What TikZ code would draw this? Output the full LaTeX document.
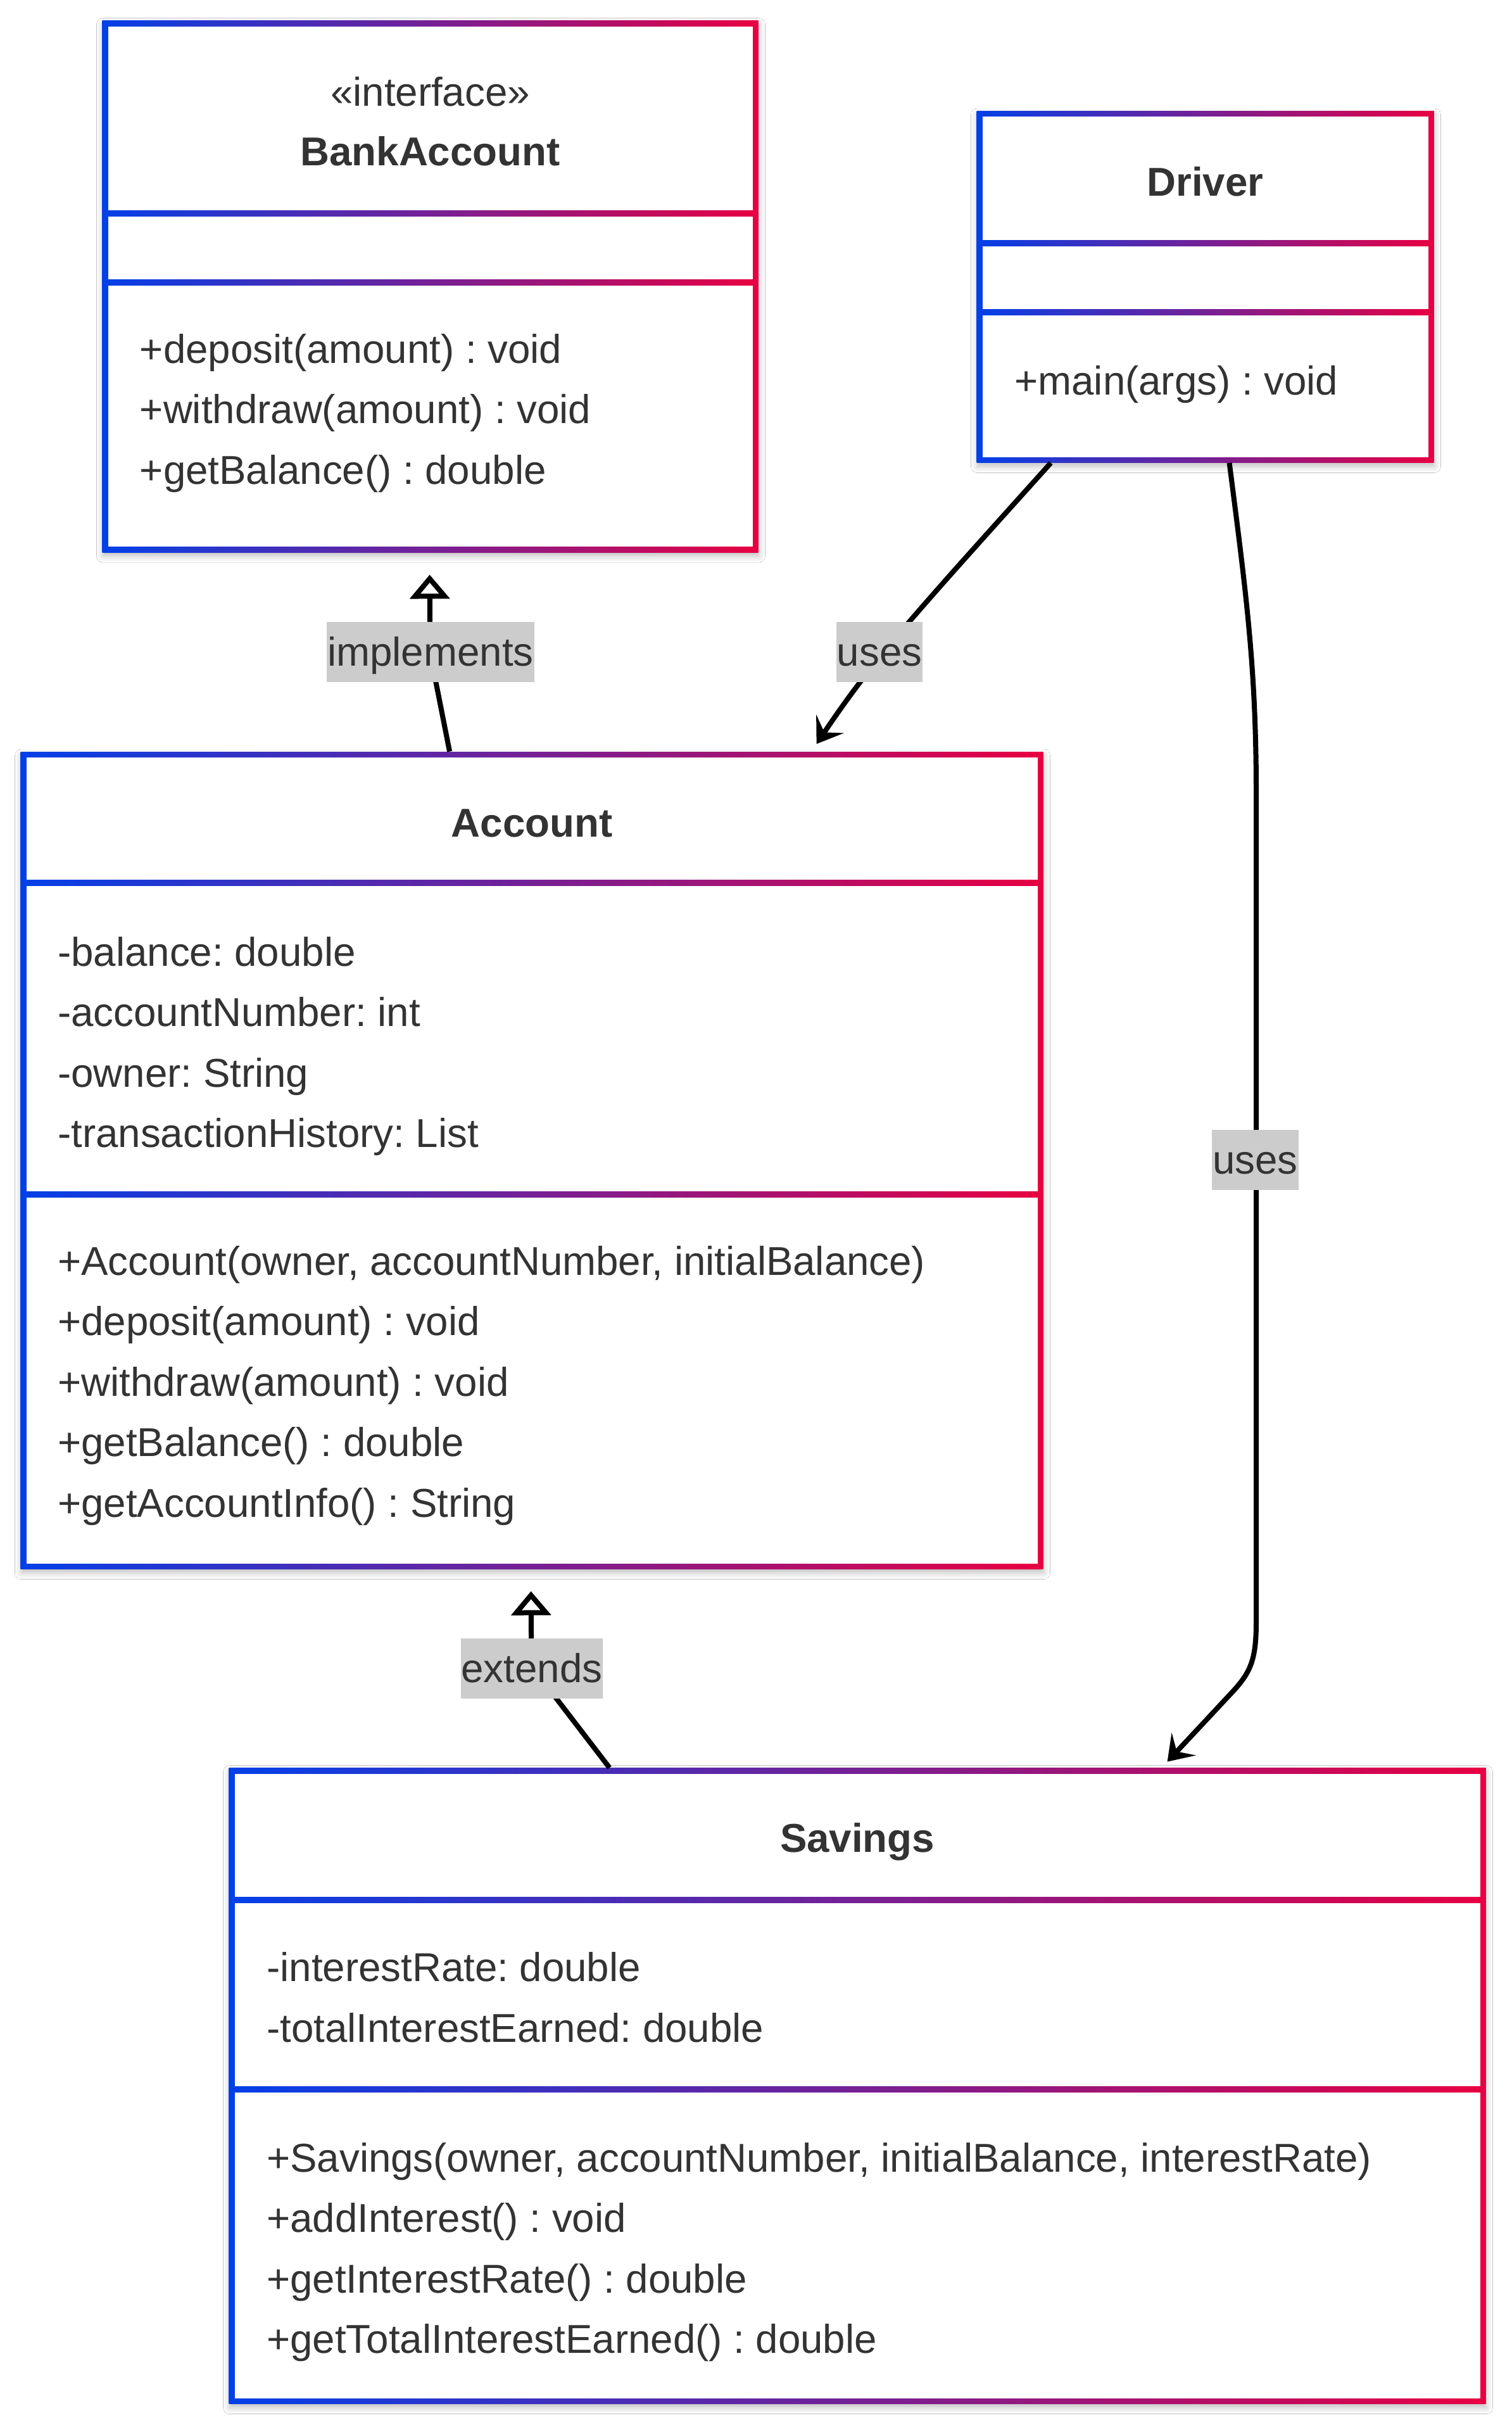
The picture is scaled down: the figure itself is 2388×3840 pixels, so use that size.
\documentclass[tikz,border=0pt]{standalone}
\usepackage{fontspec}
\setmainfont{Liberation Sans}
\usetikzlibrary{arrows.meta,calc,shadows.blur}
\definecolor{cblue}{RGB}{3,64,232}
\definecolor{cred}{RGB}{232,0,66}
\definecolor{ctext}{RGB}{51,51,51}
\definecolor{clabel}{RGB}{204,204,204}
\frenchspacing
\newcommand{\fsz}{\fontsize{31.8pt}{47.75pt}\selectfont\frenchspacing}
% name, x1, y1, x2, y2 (centre line of the border), divider 1, divider 2
\newcommand{\umlbox}[7]{%
  \node[outerbox, minimum width={(#4-#2+9)*0.5pt}, minimum height={(#5-#3+9)*0.5pt}] (#1) at ({(#2+#4)/2},{(#3+#5)/2}) {};
  \fill[white] (#2+4.5,#3+4.5) rectangle (#4-4.5,#5-4.5);
  \shade[left color=cblue,right color=cred] (#2-4.5,#6-4.5) rectangle (#4+4.5,#6+4.5);
  \shade[left color=cblue,right color=cred] (#2-4.5,#7-4.5) rectangle (#4+4.5,#7+4.5);
}
\tikzset{
  outerbox/.style={draw=none, inner sep=0pt, left color=cblue, right color=cred,
    blur shadow={shadow xshift=0.5pt, shadow yshift=-3pt, shadow blur radius=5pt, shadow opacity=25}},
  mem/.style={anchor=base west, inner sep=0pt, text=ctext, font=\fsz},
  ttl/.style={anchor=base, inner sep=0pt, text=ctext, font=\fsz\bfseries},
  stereo/.style={anchor=base, inner sep=0pt, text=ctext, font=\fsz},
  lbl/.style={fill=clabel, text=ctext, font=\fsz, inner xsep=0.5pt, inner ysep=0pt,
    text height=34.85pt, text depth=12.85pt},
  conn/.style={draw=black, line width=4pt},
  realize/.style={-{Triangle[open, length=19pt, width=31pt]}},
  depend/.style={-{Stealth[length=19pt, width=26pt, inset=8pt]}}
}
\begin{document}
\begin{tikzpicture}[x=0.5pt, y=-0.5pt]
\fill[white] (0,0) rectangle (2388,3840);
\useasboundingbox (0,0) rectangle (2388,3840);

% class boxes
\umlbox{bank}{166}{37}{1193}{867.5}{337}{446}
\umlbox{driver}{1547}{179.5}{2260}{726}{384}{493}
\umlbox{account}{37}{1191.5}{1643}{2473}{1394}{1886}
\umlbox{savings}{366}{2796}{2342}{3791}{3000}{3299}

% BankAccount
\node[stereo] (bst) at (679.5,167) {«interface»};
\node[ttl] (bttl) at (679.5,261) {BankAccount};
\node[mem] (bm1) at (220.5,573) {+deposit(amount) : void};
\node[mem] (bm2) at (220.5,668.5) {+withdraw(amount) : void};
\node[mem] (bm3) at (220.5,764) {+getBalance() : double};

% Driver
\node[ttl] (dttl) at (1903.5,309) {Driver};
\node[mem] (dm1) at (1602,623.5) {+main(args) : void};

% Account
\node[ttl] (attl) at (840,1321) {Account};
\node[mem] (aa1) at (91,1525) {-balance: double};
\node[mem] (aa2) at (91,1620.5) {-accountNumber: int};
\node[mem] (aa3) at (91,1716) {-owner: String};
\node[mem] (aa4) at (91,1811.5) {-transactionHistory: List};
\node[mem] (am1) at (91,2013) {+Account(owner, accountNumber, initialBalance)};
\node[mem] (am2) at (91,2108.5) {+deposit(amount) : void};
\node[mem] (am3) at (91,2204) {+withdraw(amount) : void};
\node[mem] (am4) at (91,2299.5) {+getBalance() : double};
\node[mem] (am5) at (91,2395) {+getAccountInfo() : String};

% Savings
\node[ttl] (sttl) at (1354,2924) {Savings};
\node[mem] (sa1) at (421,3128) {-interestRate: double};
\node[mem] (sa2) at (421,3224.5) {-totalInterestEarned: double};
\node[mem] (sm1) at (421,3429) {+Savings(owner, accountNumber, initialBalance, interestRate)};
\node[mem] (sm2) at (421,3524.5) {+addInterest() : void};
\node[mem] (sm3) at (421,3620) {+getInterestRate() : double};
\node[mem] (sm4) at (421,3715.5) {+getTotalInterestEarned() : double};

% connectors
\draw[conn, realize] ($(account.north west)+(678,0)$) -- (690,1085)
  .. controls (681,1040) and (679,1020) .. (679,990) -- ($(bank.south west)+(517.5,35)$);
\draw[conn, depend] ($(driver.south west)+(117.5,0)$)
  .. controls (1440,975) and (1380,1040) .. ($(account.north west)+(1257.5,-12)$);
\draw[conn, depend] ($(driver.south west)+(399.5,0)$)
  .. controls (1967,930) and (1984,1050) .. (1984,1250) -- (1984,2560)
  .. controls (1984,2620) and (1976,2640) .. (1945,2673) -- ($(savings.north west)+(1482.5,-9.5)$);
\draw[conn, realize] ($(savings.north west)+(601.5,0)$) -- (885,2690)
  .. controls (850,2645) and (839,2620) .. (839,2580) -- ($(account.south west)+(806.5,34.5)$);

% labels
\node[lbl] (limpl) at (680,1029.5) {implements};
\node[lbl] (luses1) at (1389,1029.5) {uses};
\node[lbl] (luses2) at (1982.5,1831.5) {uses};
\node[lbl] (lext) at (840,2634.5) {extends};
\end{tikzpicture}
\end{document}
